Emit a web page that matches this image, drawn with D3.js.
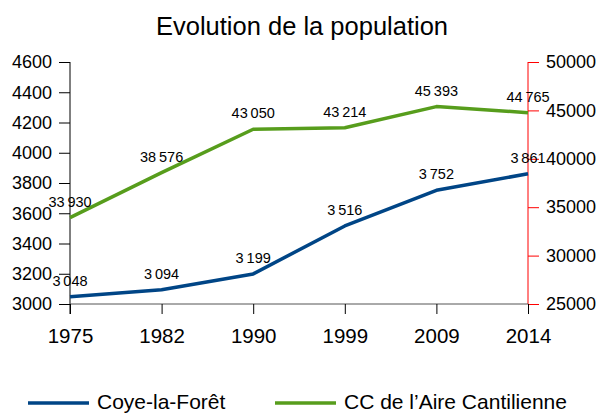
<!DOCTYPE html>
<html lang="fr">
<head>
  <meta charset="UTF-8">
  <title>Evolution de la population</title>
  <style>
    body { margin: 0; background: #fff; font-family: 'Liberation Sans', Arial, sans-serif; }
  </style>
  <script src="https://d3js.org/d3.v7.min.js"></script>
</head>
<body>
<script>
  // Data
  const years = ["1975", "1982", "1990", "1999", "2009", "2014"];
  const coye = [3048, 3094, 3199, 3516, 3752, 3861];
  const ccAire = [33930, 38576, 43050, 43214, 45393, 44765];
  const leftTicks = [3000, 3200, 3400, 3600, 3800, 4000, 4200, 4400, 4600];
  const rightTicks = [25000, 30000, 35000, 40000, 45000, 50000];

  const W = 599, H = 414;
  const plotL = 70, plotR = 528, plotT = 62, plotB = 304;
  const FONT = "'Liberation Sans', Arial, sans-serif";

  const svg = d3.select("body").append("svg")
    .attr("width", W)
    .attr("height", H);

  const x = d3.scalePoint().domain(years).range([plotL, plotR]);
  const yL = d3.scaleLinear().domain([3000, 4600]).range([plotB, plotT]);
  const yR = d3.scaleLinear().domain([25000, 50000]).range([plotB, plotT]);

  // title
  svg.append("text")
    .attr("x", 302).attr("y", 35)
    .attr("text-anchor", "middle")
    .attr("font-size", 25.5)
    .text("Evolution de la population");

  // left axis
  const ga = svg.append("g")
    .attr("transform", `translate(${plotL},0)`)
    .call(d3.axisLeft(yL).tickValues(leftTicks).tickSize(11).tickPadding(7).tickFormat(d3.format("d")));
  ga.selectAll("text").attr("font-size", 18).attr("font-family", FONT).attr("fill", "#000");
  ga.selectAll("line, path").attr("stroke", "#000");
  ga.select(".domain").attr("d", `M0,${plotT}V${plotB + 10}`);

  // right axis (red)
  const gr = svg.append("g")
    .attr("transform", `translate(${plotR},0)`)
    .call(d3.axisRight(yR).tickValues(rightTicks).tickSize(11).tickPadding(7).tickFormat(d3.format("d")));
  gr.selectAll("text").attr("font-size", 18).attr("font-family", FONT).attr("fill", "#000");
  gr.selectAll("line, path").attr("stroke", "#ff0000");
  gr.select(".domain").attr("d", `M0,${plotT}V${plotB}`);

  // bottom axis
  const gb = svg.append("g")
    .attr("transform", `translate(0,${plotB})`)
    .call(d3.axisBottom(x).tickSize(10).tickPadding(14));
  gb.selectAll("text").attr("font-size", 20.5).attr("font-family", FONT).attr("fill", "#000");
  gb.selectAll("line").attr("stroke", "#000");
  gb.select(".domain").attr("d", `M${plotL},0H${plotR}`).attr("stroke", "#555");

  const fmt = v => d3.format(",")(v).replace(/,/g, "\u202f");

  const series = [
    { name: "Coye-la-Forêt", values: coye, y: yL, color: "#004586" },
    { name: "CC de l\u2019Aire Cantilienne", values: ccAire, y: yR, color: "#579d1c" }
  ];

  series.forEach(s => {
    const line = d3.line()
      .x((d, i) => x(years[i]))
      .y(d => s.y(d));
    svg.append("path")
      .datum(s.values)
      .attr("d", line)
      .attr("fill", "none")
      .attr("stroke", s.color)
      .attr("stroke-width", 3.5)
      .attr("stroke-linejoin", "round");

    svg.append("g").selectAll("text")
      .data(s.values)
      .enter().append("text")
      .attr("x", (d, i) => x(years[i]))
      .attr("y", d => s.y(d) - 11)
      .attr("text-anchor", "middle")
      .attr("font-size", 14.5)
      .attr("letter-spacing", -0.4)
      .text(d => fmt(d));
  });

  // legend
  const legendX = [28, 275];
  series.forEach((s, i) => {
    svg.append("line")
      .attr("x1", legendX[i]).attr("x2", legendX[i] + 61)
      .attr("y1", 403).attr("y2", 403)
      .attr("stroke", s.color)
      .attr("stroke-width", 3.5);
    svg.append("text")
      .attr("x", legendX[i] + 69).attr("y", 409)
      .attr("font-size", 21)
      .text(s.name);
  });
</script>
</body>
</html>
